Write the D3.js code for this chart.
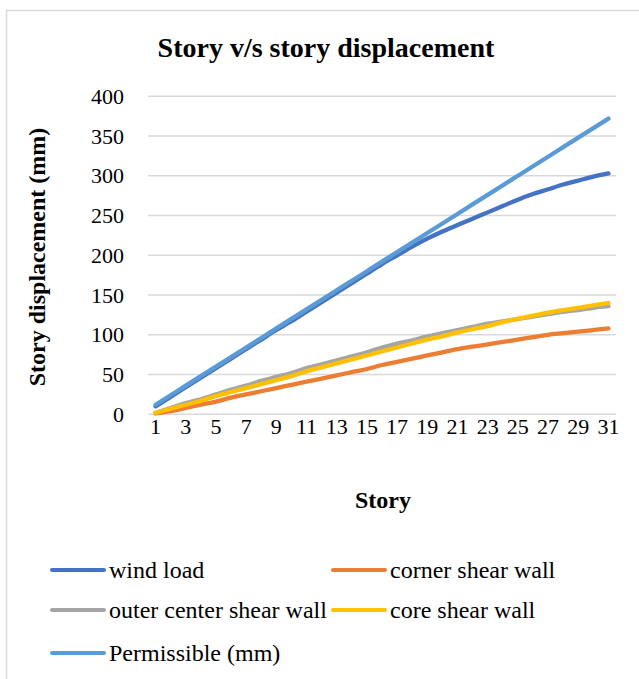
<!DOCTYPE html>
<html>
<head>
<meta charset="utf-8">
<script src="https://cdn.jsdelivr.net/npm/d3@7"></script>
<style>
  html, body { margin: 0; padding: 0; background: #fff; }
  svg { display: block; }
  svg text { font-family: "Liberation Serif", "Times New Roman", serif; }
</style>
</head>
<body>
<svg id="chart" width="639" height="679"></svg>
<script>
// Story numbers (x categories)
const stories = d3.range(1, 32);
const storyTickLabels = stories.filter(s => s % 2 === 1);
const yTicks = [0, 50, 100, 150, 200, 250, 300, 350, 400];

// Displacement per story (mm)
const windLoad = [10, 22, 34, 46, 58, 70, 82, 94, 106, 117, 129, 141, 153, 165, 177, 189, 200, 211, 221, 230, 238, 246, 254, 262, 270, 277, 283, 289, 294, 299, 303];
const cornerShearWall = [1, 4, 8, 12, 16, 21, 25, 29, 33, 37, 41, 45, 49, 53, 57, 62, 66, 70, 74, 78, 82, 85, 88, 91, 94, 97, 100, 102, 104, 106, 108];
const outerCenterShearWall = [2, 8, 14, 19, 25, 31, 36, 42, 47, 52, 58, 63, 68, 73, 78, 84, 89, 93, 98, 102, 106, 110, 114, 117, 120, 123, 126, 129, 131, 134, 136];
const coreShearWall = [2, 7, 12, 17, 23, 28, 33, 38, 43, 48, 54, 59, 64, 69, 74, 79, 84, 89, 94, 98, 103, 107, 111, 116, 120, 124, 128, 131, 134, 137, 140];
const permissible = [12, 24, 36, 48, 60, 72, 84, 96, 108, 120, 132, 144, 156, 168, 180, 192, 204, 216, 228, 240, 252, 264, 276, 288, 300, 312, 324, 336, 348, 360, 372];

const seriesNames = ["wind load", "corner shear wall", "outer center shear wall", "core shear wall", "Permissible (mm)"];
const seriesColors = ["#4472C4", "#ED7D31", "#A5A5A5", "#FFC000", "#5B9BD5"];
const seriesValues = [windLoad, cornerShearWall, outerCenterShearWall, coreShearWall, permissible];

const series = seriesNames.map((name, i) => ({
  name, color: seriesColors[i],
  values: stories.map((s, j) => ({ story: s, value: seriesValues[i][j] }))
}));

const FONT = "Liberation Serif, Times New Roman, serif";
const svg = d3.select("#chart");

// Chart area border
svg.append("rect")
  .attr("x", 6.5).attr("y", 10.5)
  .attr("width", 800).attr("height", 800)
  .attr("fill", "none").attr("stroke", "#d9d9d9").attr("stroke-width", 1.5);

const plot = { left: 148, right: 616, top: 96.3, bottom: 414.3 };

const x = d3.scaleBand().domain(stories).range([plot.left, plot.right]);
const y = d3.scaleLinear().domain([0, 400]).range([plot.bottom, plot.top]);
const cx = s => x(s) + x.bandwidth() / 2;

// Horizontal gridlines
svg.append("g")
  .selectAll("line")
  .data(yTicks)
  .join("line")
  .attr("x1", plot.left).attr("x2", plot.right)
  .attr("y1", d => y(d)).attr("y2", d => y(d))
  .attr("stroke", "#d9d9d9").attr("stroke-width", 1.5);

// Y axis labels
const yAxis = svg.append("g")
  .attr("transform", `translate(${plot.left - 24},0)`)
  .call(d3.axisLeft(y).tickValues(yTicks).tickSize(0).tickPadding(0));
yAxis.attr("font-family", FONT);
yAxis.select(".domain").remove();
yAxis.selectAll("text")
  .attr("font-family", FONT)
  .attr("font-size", 22).attr("fill", "#000");

// X axis labels
const xAxis = svg.append("g")
  .attr("transform", `translate(0,${plot.bottom})`)
  .call(d3.axisBottom(x).tickValues(storyTickLabels).tickSize(0).tickPadding(4));
xAxis.attr("font-family", FONT);
xAxis.select(".domain").remove();
xAxis.selectAll("text")
  .attr("font-family", FONT)
  .attr("font-size", 22).attr("fill", "#000");

// Series lines
const line = d3.line()
  .x(d => cx(d.story))
  .y(d => y(d.value))
  .curve(d3.curveMonotoneX);

svg.append("g")
  .selectAll("path")
  .data(series)
  .join("path")
  .attr("d", d => line(d.values))
  .attr("fill", "none")
  .attr("stroke", d => d.color)
  .attr("stroke-width", 4.3)
  .attr("stroke-linecap", "round")
  .attr("stroke-linejoin", "round");

// Title
svg.append("text")
  .attr("x", 326).attr("y", 57)
  .attr("text-anchor", "middle")
  .attr("font-family", FONT)
  .attr("font-size", 28).attr("font-weight", "bold")
  .text("Story v/s story displacement");

// Axis titles
svg.append("text")
  .attr("transform", "translate(45,257) rotate(-90)")
  .attr("text-anchor", "middle")
  .attr("font-family", FONT)
  .attr("font-size", 24).attr("font-weight", "bold")
  .text("Story displacement (mm)");

svg.append("text")
  .attr("x", 383).attr("y", 508)
  .attr("text-anchor", "middle")
  .attr("font-family", FONT)
  .attr("font-size", 24).attr("font-weight", "bold")
  .text("Story");

// Legend
const legendPos = [
  { x: 52, y: 570 }, { x: 333, y: 570 },
  { x: 52, y: 610 }, { x: 333, y: 610 },
  { x: 52, y: 653 }
];
const legend = svg.append("g")
  .selectAll("g")
  .data(series)
  .join("g")
  .attr("transform", (d, i) => `translate(${legendPos[i].x},${legendPos[i].y})`);
legend.append("line")
  .attr("x1", 0).attr("x2", 52)
  .attr("stroke", d => d.color).attr("stroke-width", 4)
  .attr("stroke-linecap", "round");
legend.append("text")
  .attr("x", 57).attr("dy", "0.35em")
  .attr("font-family", FONT)
  .attr("font-size", 24)
  .text(d => d.name);
</script>
</body>
</html>
